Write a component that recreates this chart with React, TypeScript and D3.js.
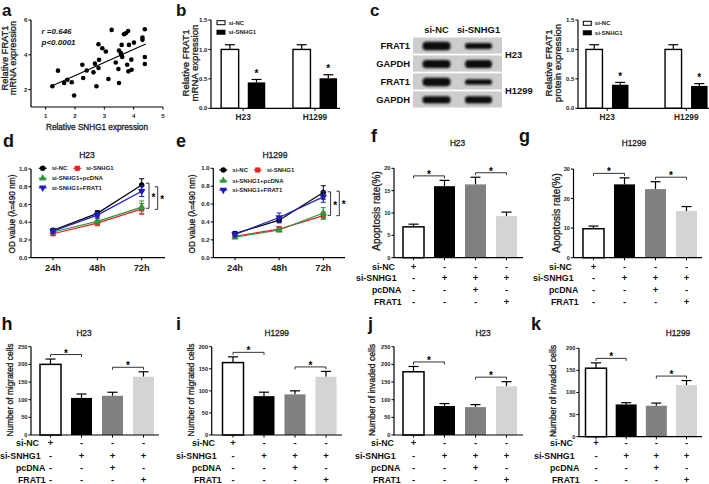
import React from 'react';
import * as d3 from 'd3';

const FONT = '"Liberation Sans", Arial, Helvetica, sans-serif';

// ---------------- Data ----------------
// (a) correlation scatter
const snhg1Expr = [1.23, 1.42, 1.63, 1.74, 1.89, 1.97, 2.25, 2.28, 2.4, 2.63, 2.68, 2.73, 2.8, 2.8, 2.82, 2.93, 3.05, 3.14, 3.25, 3.39, 3.48, 3.5, 3.5, 3.56, 3.58, 3.59, 3.67, 3.73, 3.61, 3.81, 3.78, 3.84, 3.82, 3.92, 3.93, 4.01, 4.3, 4.3, 4.38, 4.38, 4.38];
const frat1Expr = [2.19, 3.09, 2.38, 2.57, 2.42, 1.66, 3.43, 2.67, 3.1, 2.99, 3.49, 2.19, 4.61, 3.24, 3.71, 4.38, 4.19, 2.61, 5.43, 3.56, 3.18, 4.25, 2.38, 4.1, 4.0, 4.57, 5.18, 5.24, 3.87, 5.37, 3.43, 4.57, 3.05, 3.72, 3.14, 4.7, 4.99, 4.86, 5.47, 3.87, 3.47];
const corrLabels = ['r =0.646', 'p<0.0001'];
const scatterXTicks = [1, 2, 3, 4, 5];
const scatterYTicks = [2, 4, 6];

// (b) / (c)
const cellLines = ['H23', 'H1299'];
const groupLegend = ['si-NC', 'si-SNHG1'];
const relTicks = [0, 0.5, 1.0, 1.5];
const mrnaNC = [1.0, 1.0];
const mrnaNCErr = [0.08, 0.08];
const mrnaSi = [0.44, 0.51];
const mrnaSiErr = [0.05, 0.06];
const protNC = [1.0, 1.0];
const protNCErr = [0.08, 0.08];
const protSi = [0.4, 0.38];
const protSiErr = [0.04, 0.04];

// (c) western blot
const blotRowLabels = ['FRAT1', 'GAPDH', 'FRAT1', 'GAPDH'];
const blotLanes = ['si-NC', 'si-SNHG1'];
const blotCellLabels = ['H23', 'H1299'];
const bandNC = [1.0, 0.95, 1.0, 0.85];
const bandSi = [0.7, 0.95, 0.66, 0.85];

// (d) / (e) growth curves
const timePoints = ['24h', '48h', '72h'];
const seriesNames = ['si-NC', 'si-SNHG1', 'si-SNHG1+pcDNA', 'si-SNHG1+FRAT1'];
const odTicks = [0, 0.2, 0.4, 0.6, 0.8, 1.0];
const h23NC = [0.31, 0.5, 0.82];
const h23NCErr = [0.02, 0.03, 0.07];
const h23Si = [0.27, 0.39, 0.55];
const h23SiErr = [0.02, 0.03, 0.06];
const h23Pc = [0.29, 0.41, 0.57];
const h23PcErr = [0.02, 0.03, 0.07];
const h23Fr = [0.3, 0.48, 0.75];
const h23FrErr = [0.02, 0.03, 0.06];
const h23Brackets = [[0.84, 0.557], [0.8, 0.545]];
const h1299NC = [0.27, 0.42, 0.73];
const h1299NCErr = [0.02, 0.03, 0.075];
const h1299Si = [0.24, 0.32, 0.47];
const h1299SiErr = [0.02, 0.03, 0.04];
const h1299Pc = [0.23, 0.31, 0.5];
const h1299PcErr = [0.02, 0.02, 0.06];
const h1299Fr = [0.26, 0.45, 0.68];
const h1299FrErr = [0.02, 0.05, 0.06];
const h1299Brackets = [[0.737, 0.473], [0.744, 0.47]];

// (f)-(k) bar + condition table
const conds = ['g1', 'g2', 'g3', 'g4'];
const tableRows = ['si-NC', 'si-SNHG1', 'pcDNA', 'FRAT1'];
const rowSiNC = ['+', '-', '-', '-'];
const rowSiSNHG1 = ['-', '+', '+', '+'];
const rowPcDNA = ['-', '-', '+', '-'];
const rowFRAT1 = ['-', '-', '-', '+'];
const apopTicksH23 = [0, 5, 10, 15, 20];
const apopTicksH1299 = [0, 10, 20, 30];
const apopH23 = [6.9, 16.0, 16.4, 9.3];
const apopH23Err = [0.6, 1.3, 1.6, 0.9];
const apopH1299 = [9.8, 24.8, 23.2, 15.8];
const apopH1299Err = [0.9, 2.2, 2.5, 1.5];
const cellTicks250 = [0, 50, 100, 150, 200, 250];
const cellTicks200 = [0, 50, 100, 150, 200];
const migH23 = [200, 105, 111, 165];
const migH23Err = [15, 11, 10, 14];
const migH1299 = [164, 88, 92, 132];
const migH1299Err = [13, 9, 8, 12];
const invH23 = [179, 82, 79, 138];
const invH23Err = [15, 7, 7, 13];
const invH1299 = [155, 73, 70, 117];
const invH1299Err = [12, 4, 6, 10];

// ---------------- Styles ----------------
const barFills = ['#ffffff', '#000000', '#808080', '#d4d4d4'];
const seriesColors = ['#000000', '#ee1c24', '#2a9a3a', '#1c1cc0'];
const seriesSymbols = [d3.symbolCircle, d3.symbolSquare, d3.symbolTriangle, d3.symbolTriangle];
const seriesRot = [0, 0, 0, 180];
const AX = 1.2;
const TITLE_STROKE = { stroke: '#1a1a1a', strokeWidth: 0.3 };

const PanelLetter = ({ x, y, t, size }: any) => (
  <text x={x} y={y} fontSize={size || 18} fontWeight="bold" fill="#111">{t}</text>
);

const VTitle = ({ x, y, lines, size, gap }: any) => (
  <g>
    {lines.map((l: string, i: number) => (
      <text key={i} transform={`translate(${x + i * (gap || 0)},${y}) rotate(-90)`} textAnchor="middle" dominantBaseline="central" fontSize={size} fill="#1a1a1a" {...TITLE_STROKE}>{l}</text>
    ))}
  </g>
);

function YAxis({ x, scale, ticks, fmt, size, top, bottom }: any) {
  return (
    <g>
      <line x1={x} x2={x} y1={top ?? scale(ticks[ticks.length - 1])} y2={bottom ?? scale(ticks[0])} stroke="#000" strokeWidth={AX} />
      {ticks.map((t: number) => (
        <g key={t}>
          <line x1={x - 2.6} x2={x} y1={scale(t)} y2={scale(t)} stroke="#000" strokeWidth={1} />
          <text x={x - 3.6} y={scale(t)} dy="0.35em" textAnchor="end" fontSize={size} fontWeight="bold" fill="#222">{fmt(t)}</text>
        </g>
      ))}
    </g>
  );
}

// ---------------- Panel a ----------------
function PanelA() {
  const x = d3.scaleLinear().domain([0.5, 5]).range([31, 163]);
  const y = d3.scaleLinear().domain([1, 6]).range([107, 20]);
  const mx = d3.mean(snhg1Expr) as number;
  const my = d3.mean(frat1Expr) as number;
  const sxy = d3.sum(snhg1Expr.map((v, i) => (v - mx) * (frat1Expr[i] - my)));
  const sxx = d3.sum(snhg1Expr.map((v) => (v - mx) ** 2));
  const slope = sxy / sxx;
  const icpt = my - slope * mx;
  const [ex0, ex1] = d3.extent(snhg1Expr) as [number, number];
  const lx0 = ex0 - 0.06, lx1 = ex1 + 0.03;
  return (
    <g>
      <PanelLetter x={2} y={16} t="a" size={17} />
      <YAxis x={x(0.5)} scale={y} ticks={scatterYTicks} fmt={(t: number) => String(t)} size={6} top={y(6)} bottom={y(1)} />
      <line x1={x(0.5)} x2={x(5)} y1={y(1)} y2={y(1)} stroke="#000" strokeWidth={AX} />
      {scatterXTicks.map((t) => (
        <g key={t}>
          <line x1={x(t)} x2={x(t)} y1={y(1)} y2={y(1) + 2.6} stroke="#000" strokeWidth={1} />
          <text x={x(t)} y={y(1) + 10.5} textAnchor="middle" fontSize={6} fontWeight="bold" fill="#222">{t}</text>
        </g>
      ))}
      {snhg1Expr.map((v, i) => (
        <circle key={i} cx={x(v)} cy={y(frat1Expr[i])} r={2.3} fill="#000" />
      ))}
      <line x1={x(lx0)} x2={x(lx1)} y1={y(icpt + slope * lx0)} y2={y(icpt + slope * lx1)} stroke="#000" strokeWidth={1.1} />
      {corrLabels.map((l, i) => (
        <text key={l} x={41.5} y={33.5 + i * 11} fontSize={8} fontWeight="bold" fontStyle="italic" fill="#111">{l}</text>
      ))}
      <text x={97} y={130} textAnchor="middle" fontSize={8.2} fill="#1a1a1a" {...TITLE_STROKE}>Relative SNHG1 expression</text>
      <VTitle x={4.8} y={58} lines={['Relative FRAT1', 'mRNA expression']} size={9.3} gap={8.6} />
    </g>
  );
}

// ---------------- Panels b / c ----------------
function GroupBars({ ax, xEnd, c0, c1, off, bw, nc, ncErr, si, siErr, yLines, yX, legX, legY, letter, letterX }: any) {
  const y = d3.scaleLinear().domain([0, 1.5]).range([108.3, 20]);
  const x = d3.scalePoint<string>().domain(cellLines).range([c0, c1]);
  const cap = 5;
  const bar = (cx: number, v: number, e: number, fill: string, stroke: boolean, key: string) => (
    <g key={key}>
      <line x1={cx} x2={cx} y1={y(v)} y2={y(v + e)} stroke="#000" strokeWidth={1.2} />
      <line x1={cx - cap} x2={cx + cap} y1={y(v + e)} y2={y(v + e)} stroke="#000" strokeWidth={1.2} />
      <rect x={cx - bw / 2} y={y(v)} width={bw} height={y(0) - y(v)} fill={fill} stroke={stroke ? '#000' : 'none'} strokeWidth={1.4} />
    </g>
  );
  return (
    <g>
      {letter ? <PanelLetter x={letterX} y={16} t={letter} size={17} /> : null}
      {cellLines.map((c, i) => {
        const cx = x(c) as number;
        return (
          <g key={c}>
            {bar(cx - off, nc[i], ncErr[i], '#fff', true, 'n')}
            {bar(cx + off, si[i], siErr[i], '#000', false, 's')}
            <text x={cx + off} y={y(si[i] + siErr[i]) - 2.5} textAnchor="middle" fontSize={10} fontWeight="bold">*</text>
            <line x1={cx} x2={cx} y1={y(0)} y2={y(0) + 2.6} stroke="#000" strokeWidth={1} />
            <text x={cx} y={120} textAnchor="middle" fontSize={8.3} fontWeight="bold" fill="#222">{c}</text>
          </g>
        );
      })}
      <YAxis x={ax} scale={y} ticks={relTicks} fmt={(t: number) => t.toFixed(1)} size={6} />
      <line x1={ax} x2={xEnd} y1={y(0)} y2={y(0)} stroke="#000" strokeWidth={AX} />
      {groupLegend.map((g, i) => (
        <g key={g}>
          <rect x={legX} y={legY + i * 9.5 - 2} width={8} height={4} fill={i === 0 ? '#fff' : '#000'} stroke="#000" strokeWidth={1} />
          <text x={legX + 11.5} y={legY + i * 9.5} dy="0.35em" fontSize={6} fontWeight="bold" fill="#222">{g}</text>
        </g>
      ))}
      <VTitle x={yX} y={63} lines={yLines} size={9.6} gap={9.5} />
    </g>
  );
}

function Blot() {
  const rows = d3.scaleBand<number>().domain([0, 1, 2, 3]).range([37.5, 107.5]).paddingInner(0.1);
  const lanes = d3.scaleBand<string>().domain(blotLanes).range([413, 502]);
  const laneCenter = [436.5, 478.5];
  return (
    <g>
      <PanelLetter x={370} y={16} t="c" size={17} />
      {blotLanes.map((l, i) => (
        <text key={l} x={laneCenter[i]} y={33} textAnchor="middle" fontSize={9.4} fontWeight="bold" fill="#111">{l}</text>
      ))}
      {blotRowLabels.map((r, i) => {
        const top = rows(i) as number;
        const h = rows.bandwidth();
        const cy = top + h / 2;
        return (
          <g key={i}>
            <rect x={lanes.range()[0]} y={top} width={lanes.range()[1] - lanes.range()[0]} height={h} fill="#cdcdcd" />
            <text x={410} y={cy} dy="0.35em" textAnchor="end" fontSize={9.4} fontWeight="bold" fill="#111">{r}</text>
            {[bandNC[i], bandSi[i]].map((v, j) => {
              const bh = 8.5 * v;
              const bwid = j === 0 ? 28 : 27;
              return (
                <rect key={j} x={laneCenter[j] - bwid / 2} y={cy - bh / 2 + 0.5} width={bwid} height={bh} rx={bh / 2.2} fill="#111" filter="url(#blur)" />
              );
            })}
          </g>
        );
      })}
      {blotCellLabels.map((c, i) => {
        const top = rows(i * 2) as number;
        const bot = (rows(i * 2 + 1) as number) + rows.bandwidth();
        return (
          <text key={c} x={505} y={(top + bot) / 2} dy="0.35em" fontSize={9.4} fontWeight="bold" fill="#111">{c}</text>
        );
      })}
    </g>
  );
}

// ---------------- Panels d / e ----------------
function LineChart({ ax, xEnd, x0, x2, yTop, data, errs, brackets, title, titleX, letter, letterX, yX, leg }: any) {
  const y = d3.scaleLinear().domain([0, 1]).range([257.7, yTop]);
  const x = d3.scalePoint<string>().domain(timePoints).range([x0, x2]);
  const line = d3.line<number>().x((_, i) => x(timePoints[i]) as number).y((d) => y(d));
  const sym = (k: number, cx: number, cy: number, key: any) => (
    <path key={key} d={d3.symbol().type(seriesSymbols[k]).size(k === 1 ? 26 : 24)() as string} transform={`translate(${cx},${cy}) rotate(${seriesRot[k]})`} fill={seriesColors[k]} />
  );
  const legPos = [[0, 0], [1, 0], [0, 1], [0, 2]];
  const bx = x(timePoints[2]) as number;
  return (
    <g>
      <PanelLetter x={letterX} y={146.5} t={letter} />
      <text x={titleX} y={157.8} textAnchor="middle" fontSize={8.5} fill="#1a1a1a" {...TITLE_STROKE}>{title}</text>
      <YAxis x={ax} scale={y} ticks={odTicks} fmt={(t: number) => t.toFixed(1)} size={6} />
      <line x1={ax} x2={xEnd} y1={y(0)} y2={y(0)} stroke="#000" strokeWidth={AX} />
      {timePoints.map((t) => (
        <g key={t}>
          <line x1={x(t)} x2={x(t)} y1={y(0)} y2={y(0) + 2.6} stroke="#000" strokeWidth={1} />
          <text x={x(t)} y={271} textAnchor="middle" fontSize={9.3} fontWeight="bold" fill="#222">{t}</text>
        </g>
      ))}
      {data.map((s: number[], k: number) => (
        <g key={k}>
          <path d={line(s) as string} fill="none" stroke={seriesColors[k]} strokeWidth={1.2} />
          {s.map((v, i) => {
            const cx = x(timePoints[i]) as number;
            const e = errs[k][i];
            return (
              <g key={i}>
                <line x1={cx} x2={cx} y1={y(v - e)} y2={y(v + e)} stroke={seriesColors[k]} strokeWidth={1} />
                <line x1={cx - 2.5} x2={cx + 2.5} y1={y(v + e)} y2={y(v + e)} stroke={seriesColors[k]} strokeWidth={1} />
                <line x1={cx - 2.5} x2={cx + 2.5} y1={y(v - e)} y2={y(v - e)} stroke={seriesColors[k]} strokeWidth={1} />
                {sym(k, cx, y(v), 's')}
              </g>
            );
          })}
        </g>
      ))}
      {brackets.map((b: number[], i: number) => {
        const bxx = bx + 7.3 + i * 8.7;
        const ya = y(b[0]), yb = y(b[1]);
        return (
          <g key={i}>
            <path d={`M${bxx - 3},${ya} H${bxx} V${yb} H${bxx - 3}`} fill="none" stroke="#333" strokeWidth={1} />
            <text x={bxx + 4.5} y={(ya + yb) / 2 + 5} textAnchor="middle" fontSize={10} fontWeight="bold">*</text>
          </g>
        );
      })}
      {seriesNames.map((n, k) => {
        const [col, row] = legPos[k];
        const mx = leg.mx[col];
        const ly = leg.rows[row];
        return (
          <g key={n}>
            <line x1={mx - 4} x2={mx + 4} y1={ly} y2={ly} stroke={seriesColors[k]} strokeWidth={1.2} />
            {sym(k, mx, ly, 'l')}
            <text x={leg.tx[col]} y={ly} dy="0.35em" fontSize={6} fontWeight="bold" fill="#222">{n}</text>
          </g>
        );
      })}
      <VTitle x={yX} y={214} lines={['OD value (λ=490 nm)']} size={8.3} />
    </g>
  );
}

// ---------------- Panels f-k ----------------
function BarTable({ ax, xEnd, c0, c3, y0, yTop, ticks, values, errors, title, titleX, titleY, yTitle, yX, yY, ySize, tableX, rowsY, letter, letterX, letterY }: any) {
  const y = d3.scaleLinear().domain([0, ticks[ticks.length - 1]]).range([y0, yTop]);
  const x = d3.scalePoint<string>().domain(conds).range([c0, c3]);
  const bw = 21;
  const cap = 5;
  const rowData = [rowSiNC, rowSiSNHG1, rowPcDNA, rowFRAT1];
  const labelOff = [16, 0, 16, 18];
  return (
    <g>
      <PanelLetter x={letterX} y={letterY} t={letter} />
      <text x={titleX} y={titleY} textAnchor="middle" fontSize={8.3} fill="#1a1a1a" {...TITLE_STROKE}>{title}</text>
      {values.map((v: number, i: number) => {
        const cx = x(conds[i]) as number;
        const et = y(v + errors[i]);
        return (
          <g key={i}>
            <line x1={cx} x2={cx} y1={y(v)} y2={et} stroke="#000" strokeWidth={1.2} />
            <line x1={cx - cap} x2={cx + cap} y1={et} y2={et} stroke="#000" strokeWidth={1.2} />
            <rect x={cx - bw / 2} y={y(v)} width={bw} height={y(0) - y(v)} fill={barFills[i]} stroke={i === 0 ? '#000' : 'none'} strokeWidth={1.5} />
            <line x1={cx} x2={cx} y1={y(0)} y2={y(0) + 2.6} stroke="#000" strokeWidth={1} />
          </g>
        );
      })}
      {[[0, 1], [2, 3]].map(([a, b]) => {
        const xa = x(conds[a]) as number, xb = x(conds[b]) as number;
        const by = Math.min(y(values[a] + errors[a]), y(values[b] + errors[b])) - 4.5;
        return (
          <g key={a}>
            <path d={`M${xa},${by + 2.5} V${by} H${xb} V${by + 2.5}`} fill="none" stroke="#333" strokeWidth={1} />
            <text x={(xa + xb) / 2} y={by + 2} textAnchor="middle" fontSize={10} fontWeight="bold">*</text>
          </g>
        );
      })}
      <YAxis x={ax} scale={y} ticks={ticks} fmt={(t: number) => String(t)} size={5.6} />
      <line x1={ax} x2={xEnd} y1={y(0)} y2={y(0)} stroke="#000" strokeWidth={AX} />
      {tableRows.map((r, ri) => (
        <g key={r}>
          <text x={tableX + labelOff[ri]} y={rowsY[ri]} dy="0.35em" fontSize={8.8} fontWeight="bold" fill="#111">{r}</text>
          {rowData[ri].map((s, i) => (
            <text key={i} x={x(conds[i])} y={rowsY[ri]} dy="0.35em" textAnchor="middle" fontSize={9.5} fontWeight="bold" fill="#111">{s}</text>
          ))}
        </g>
      ))}
      <VTitle x={yX} y={yY} lines={[yTitle]} size={ySize} />
    </g>
  );
}

export default function App() {
  const rowsTop = [266.5, 278, 290, 301.5];
  const rowsBot = [443, 455.5, 468, 480];
  return (
    <svg width={709} height={484} viewBox="0 0 709 484" fontFamily={FONT} style={{ position: 'absolute', left: 0, top: 0, background: '#fff' }}>
      <defs>
        <filter id="blur" x="-20%" y="-50%" width="140%" height="200%">
          <feGaussianBlur stdDeviation="0.8" />
        </filter>
      </defs>
      <rect width={709} height={484} fill="#fff" />
      <PanelA />
      <GroupBars ax={211} xEnd={340} c0={243.2} c1={315} off={13.3} bw={17.5} nc={mrnaNC} ncErr={mrnaNCErr} si={mrnaSi} siErr={mrnaSiErr}
        yLines={['Relative FRAT1', 'mRNA expression']} yX={185} legX={217} legY={22.7} letter="b" letterX={176} />
      <Blot />
      <GroupBars ax={578} xEnd={709} c0={607.2} c1={686.3} off={13} bw={16.5} nc={protNC} ncErr={protNCErr} si={protSi} siErr={protSiErr}
        yLines={['Relative FRAT1', 'protein expression']} yX={548.3} legX={583.3} legY={23.3} letter="" letterX={0} />
      <LineChart ax={31} xEnd={165} x0={53} x2={141.7} yTop={169}
        data={[h23NC, h23Si, h23Pc, h23Fr]} errs={[h23NCErr, h23SiErr, h23PcErr, h23FrErr]} brackets={h23Brackets}
        title="H23" titleX={87} letter="d" letterX={3} yX={11.7}
        leg={{ mx: [42.7, 77.3], tx: [51.7, 86], rows: [168.3, 178.3, 187.7] }} />
      <LineChart ax={213.3} xEnd={345} x0={235} x2={323.3} yTop={168.3}
        data={[h1299NC, h1299Si, h1299Pc, h1299Fr]} errs={[h1299NCErr, h1299SiErr, h1299PcErr, h1299FrErr]} brackets={h1299Brackets}
        title="H1299" titleX={275} letter="e" letterX={176} yX={192.3}
        leg={{ mx: [223.3, 257.7], tx: [232.3, 266.7], rows: [170, 180.7, 190] }} />
      <BarTable ax={394} xEnd={523} c0={413.5} c3={506.5} y0={257.7} yTop={168.3} ticks={apopTicksH23} values={apopH23} errors={apopH23Err}
        title="H23" titleX={457.5} titleY={146} yTitle="Apoptosis rate(%)" yX={376.5} yY={211} ySize={10}
        tableX={356} rowsY={rowsTop} letter="f" letterX={371} letterY={142} />
      <BarTable ax={573.5} xEnd={702} c0={593.5} c3={686.5} y0={257.7} yTop={169} ticks={apopTicksH1299} values={apopH1299} errors={apopH1299Err}
        title="H1299" titleX={634} titleY={146} yTitle="Apoptosis rate(%)" yX={556} yY={213} ySize={10}
        tableX={533} rowsY={rowsTop} letter="g" letterX={519} letterY={142} />
      <BarTable ax={31} xEnd={159} c0={50.5} c3={143.5} y0={435} yTop={346.7} ticks={cellTicks250} values={migH23} errors={migH23Err}
        title="H23" titleX={84} titleY={336} yTitle="Number of migrated cells" yX={10} yY={390} ySize={8.4}
        tableX={0} rowsY={rowsBot} letter="h" letterX={1.5} letterY={330} />
      <BarTable ax={211.7} xEnd={342} c0={233} c3={326} y0={435} yTop={346.7} ticks={cellTicks200} values={migH1299} errors={migH1299Err}
        title="H1299" titleX={276.7} titleY={336} yTitle="Number of migrated cells" yX={191} yY={390} ySize={8.4}
        tableX={176} rowsY={rowsBot} letter="i" letterX={176} letterY={330} />
      <BarTable ax={394} xEnd={523} c0={413.5} c3={506.5} y0={435} yTop={346.7} ticks={cellTicks250} values={invH23} errors={invH23Err}
        title="H23" titleX={483} titleY={336} yTitle="Number of invaded cells" yX={371.5} yY={390} ySize={8.6}
        tableX={355} rowsY={rowsBot} letter="j" letterX={368} letterY={330} />
      <BarTable ax={579} xEnd={702} c0={596} c3={686.5} y0={436.7} yTop={348.3} ticks={cellTicks200} values={invH1299} errors={invH1299Err}
        title="H1299" titleX={678} titleY={336} yTitle="Number of invaded cells" yX={552.7} yY={391} ySize={8.6}
        tableX={534} rowsY={rowsBot} letter="k" letterX={531} letterY={330} />
    </svg>
  );
}
